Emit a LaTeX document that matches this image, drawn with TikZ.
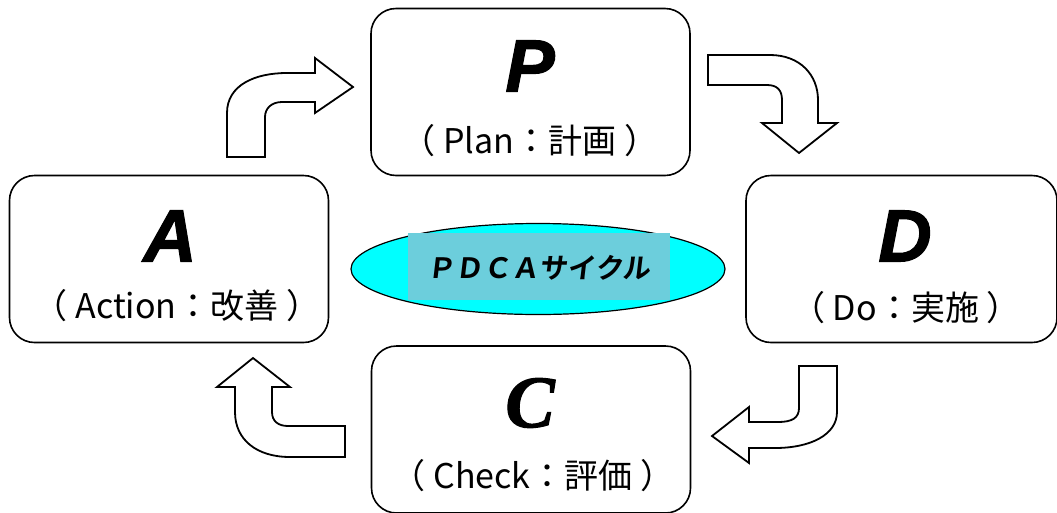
\documentclass[tikz,border=0pt]{standalone}
\usepackage{fontspec}
\usetikzlibrary{shapes.geometric}
\newfontfamily\jpfont{Noto Sans CJK JP}
\newfontfamily\popfont[FakeSlant=0.12]{Noto Sans CJK JP Bold}
\newfontfamily\bigfont[FakeBold=1.5]{Liberation Sans}
\newfontfamily\bigserif[FakeBold=1.5]{Liberation Serif}
\definecolor{ellcyan}{RGB}{0,255,255}
\definecolor{labelbg}{RGB}{108,206,220}
\begin{document}
\begin{tikzpicture}[x=1pt,y=-1pt,
  card/.style={draw, line width=1.6pt, rounded corners=25pt, fill=white,
    inner sep=0pt, minimum width=319pt, minimum height=167pt},
  letter/.style={inner sep=0pt, font=\bigfont\fontsize{74}{74}\selectfont\bfseries\itshape},
  sub/.style={inner sep=0pt, font=\jpfont\fontsize{34}{34}\selectfont},
  blockarrow/.style={draw, line width=1.8pt, fill=white, line join=miter}]
\useasboundingbox (0,0) rectangle (1057,512);
\clip (0,0) rectangle (1057,512);
% cards
\node[card] (P) at (530.5,92) {};
\node[card] (A) at (169,259) {};
\node[card, minimum width=311pt] (D) at (901.5,259) {};
\node[card] (C) at (531,429.5) {};
% letters
\node[letter] (Pl) at (530,66) {P};
\node[sub] (Ps) at (530,141) {（ Plan：計画 ）};
\node[letter] (Al) at (170,236) {A};
\node[sub] (As) at (177,306) {（ Action：改善 ）};
\node[letter] (Dl) at (905,236) {D};
\node[sub] (Ds) at (906,308) {（ Do：実施 ）};
\node[letter, font=\bigserif\fontsize{74}{74}\selectfont\bfseries\itshape] (Cl) at (530,403) {C};
\node[sub] (Cs) at (533,476) {（ Check：評価 ）};
% centre ellipse
\node[ellipse, draw, line width=1.2pt, fill=ellcyan, inner sep=0pt,
  minimum width=374pt, minimum height=91pt] (E) at (538,269) {};
\node[fill=labelbg, inner sep=0pt, minimum width=262pt, minimum height=67pt] (L) at (539,266.5) {};
\node[inner sep=0pt, font=\popfont\fontsize{28}{28}\selectfont] (Lt) at (539,268) {ＰＤＣＡサイクル};
% block arrows
\draw[blockarrow] (227,157) -- (227,113) .. controls (227,85) and (255,73) .. (287,73)
  -- (315,73) -- (315,58) -- (353,87) -- (315,113) -- (315,102) -- (282,102)
  .. controls (272,102) and (265,108) .. (265,117) -- (265,157) -- cycle;
\draw[blockarrow] (708,55) -- (770,55) .. controls (800,55) and (818,75) .. (818,100)
  -- (818,123) -- (837,123) -- (799,153) -- (762,123) -- (782,123) -- (782,100)
  .. controls (782,90) and (777,85) .. (767,85) -- (708,85) -- cycle;
\draw[blockarrow] (799,366) -- (837,366) -- (837,412) .. controls (837,435) and (810,448) .. (775,448)
  -- (749,448) -- (749,463) -- (712,436) -- (749,407) -- (749,422) -- (778,422)
  .. controls (792,422) and (799,418) .. (799,408) -- cycle;
\draw[blockarrow] (345,426) -- (345,457) -- (290,457) .. controls (257,457) and (235,440) .. (235,412)
  -- (235,387) -- (217,387) -- (253,358) -- (290,387) -- (272,387) -- (272,412)
  .. controls (272,421) and (278,426) .. (288,426) -- cycle;
\end{tikzpicture}
\end{document}
